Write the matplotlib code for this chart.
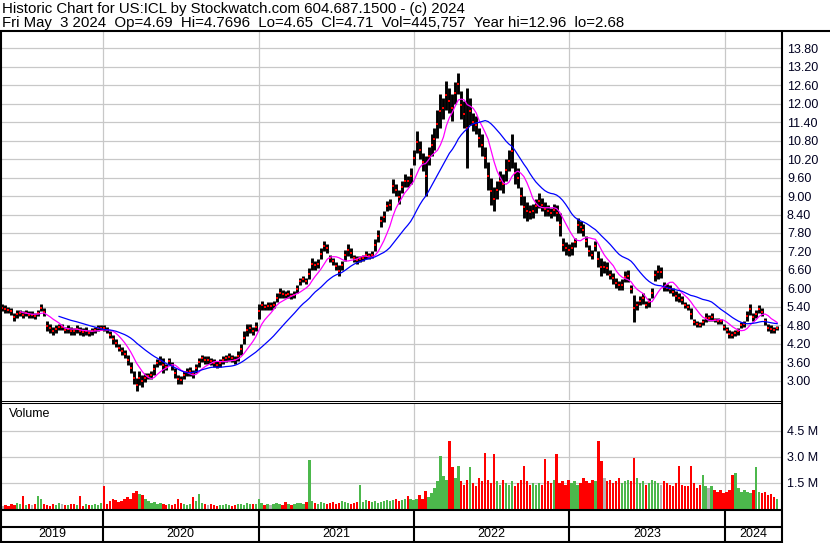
import numpy as np
import pandas as pd
import matplotlib
matplotlib.use("Agg")
import matplotlib.pyplot as plt

plt.rcParams['font.family'] = ['Liberation Sans', 'DejaVu Sans']

# weekly bars (May 2019 - May 2024)
week_high = [
    5.50, 5.45, 5.40, 5.35, 5.20, 5.30, 5.30, 5.25, 5.30, 5.25,
    5.25, 5.20, 5.30, 5.50, 5.35, 4.95, 4.85, 4.75, 4.80, 4.85,
    4.85, 4.75, 4.80, 4.75, 4.70, 4.80, 4.75, 4.70, 4.75, 4.65,
    4.70, 4.75, 4.80, 4.80, 4.80, 4.75, 4.60, 4.50, 4.35, 4.20,
    4.10, 4.00, 3.85, 3.60, 3.30, 3.10, 3.30, 3.20, 3.25, 3.25,
    3.30, 3.55, 3.70, 3.80, 3.75, 3.55, 3.75, 3.60, 3.40, 3.20,
    3.15, 3.30, 3.40, 3.45, 3.35, 3.55, 3.75, 3.85, 3.80, 3.80,
    3.75, 3.70, 3.65, 3.70, 3.80, 3.85, 3.90, 3.85, 3.80, 3.95,
    4.20, 4.60, 4.85, 4.85, 4.75, 4.90, 5.50, 5.60, 5.50, 5.55,
    5.55, 5.60, 5.85, 6.00, 5.95, 5.90, 5.95, 5.85, 5.90, 6.10,
    6.35, 6.40, 6.35, 6.65, 7.00, 6.90, 6.95, 7.30, 7.55, 7.45,
    7.10, 7.00, 6.85, 6.75, 6.90, 7.25, 7.45, 7.30, 7.10, 7.05,
    7.05, 7.10, 7.20, 7.15, 7.20, 7.60, 7.90, 8.35, 8.50, 8.85,
    8.90, 9.55, 9.40, 9.20, 9.50, 9.70, 9.65, 9.90, 10.50, 11.10,
    10.80, 10.40, 10.30, 10.60, 11.00, 11.20, 11.80, 12.30, 12.20, 12.75,
    12.50, 12.30, 12.70, 13.00, 12.40, 12.10, 12.50, 12.20, 11.70, 11.60,
    11.20, 11.00, 10.60, 10.10, 9.60, 9.30, 9.50, 9.80, 9.70, 10.20,
    10.50, 11.00, 10.10, 9.90, 9.30, 9.00, 8.80, 8.70, 8.75, 8.90,
    9.10, 8.95, 8.80, 8.70, 8.60, 8.75, 8.70, 8.45, 7.65, 7.50,
    7.45, 7.50, 7.65, 8.30, 8.20, 8.10, 7.70, 7.40, 7.25, 7.55,
    7.20, 7.00, 6.90, 6.85, 6.60, 6.50, 6.35, 6.25, 6.30, 6.55,
    6.60, 6.10, 5.80, 5.60, 5.75, 5.85, 5.60, 5.70, 6.00, 6.60,
    6.75, 6.70, 6.20, 6.15, 6.10, 6.00, 5.90, 5.85, 5.75, 5.55,
    5.50, 5.35, 5.00, 4.95, 4.90, 5.00, 5.20, 5.15, 5.20, 5.05,
    5.05, 5.00, 4.85, 4.75, 4.65, 4.60, 4.65, 4.70, 4.90, 4.95,
    5.25, 5.50, 5.20, 5.30, 5.45, 5.35, 5.05, 4.85, 4.80, 4.75, 4.77,
]
week_low = [
    5.25, 5.20, 5.20, 5.15, 4.95, 5.05, 5.10, 5.05, 5.10, 5.05,
    5.05, 5.00, 5.10, 5.25, 5.10, 4.60, 4.55, 4.50, 4.55, 4.65,
    4.65, 4.55, 4.55, 4.50, 4.50, 4.55, 4.50, 4.45, 4.50, 4.45,
    4.50, 4.55, 4.60, 4.65, 4.60, 4.55, 4.40, 4.20, 4.10, 3.95,
    3.85, 3.75, 3.50, 3.25, 2.90, 2.65, 2.85, 2.80, 2.95, 3.05,
    3.05, 3.20, 3.45, 3.50, 3.25, 3.35, 3.50, 3.35, 3.10, 2.90,
    2.90, 3.05, 3.15, 3.15, 3.10, 3.25, 3.45, 3.60, 3.55, 3.55,
    3.50, 3.45, 3.40, 3.45, 3.55, 3.60, 3.65, 3.60, 3.55, 3.65,
    3.85, 4.20, 4.45, 4.55, 4.50, 4.60, 5.00, 5.30, 5.30, 5.30,
    5.30, 5.35, 5.55, 5.70, 5.70, 5.70, 5.70, 5.65, 5.70, 5.85,
    6.10, 6.20, 6.15, 6.30, 6.60, 6.60, 6.65, 6.95, 7.20, 7.15,
    6.85, 6.75, 6.60, 6.40, 6.60, 6.90, 7.05, 7.00, 6.85, 6.80,
    6.85, 6.90, 6.95, 6.95, 7.00, 7.20, 7.50, 8.00, 8.15, 8.50,
    8.55, 9.10, 9.00, 8.75, 9.10, 9.30, 9.30, 9.40, 10.00, 10.40,
    10.20, 9.80, 9.00, 10.00, 10.30, 10.50, 10.90, 11.20, 11.50, 11.80,
    11.70, 11.45, 12.00, 12.30, 11.50, 11.20, 9.90, 11.30, 11.10, 11.00,
    10.60, 10.30, 9.90, 9.20, 8.70, 8.50, 8.90, 9.20, 9.10, 9.50,
    9.80, 9.90, 9.40, 9.25, 8.70, 8.30, 8.20, 8.25, 8.30, 8.45,
    8.60, 8.50, 8.35, 8.35, 8.30, 8.35, 8.20, 7.70, 7.20, 7.10,
    7.05, 7.10, 7.35, 7.80, 7.80, 7.70, 7.35, 7.05, 6.95, 7.20,
    6.70, 6.40, 6.50, 6.45, 6.30, 6.15, 6.00, 5.95, 5.95, 6.20,
    6.20, 5.85, 4.90, 5.30, 5.45, 5.50, 5.35, 5.40, 5.70, 6.25,
    6.30, 6.35, 5.90, 5.90, 5.85, 5.75, 5.60, 5.55, 5.50, 5.35,
    5.30, 5.00, 4.80, 4.75, 4.75, 4.80, 4.90, 4.95, 4.95, 4.90,
    4.85, 4.85, 4.65, 4.55, 4.40, 4.40, 4.45, 4.50, 4.70, 4.75,
    4.95, 5.15, 4.95, 5.05, 5.20, 5.10, 4.80, 4.60, 4.55, 4.55, 4.65,
]
# volume in millions
week_volume = [
    0.20, 0.25, 0.15, 0.30, 0.22, 0.35, 0.28, 0.75, 0.25, 0.30,
    0.25, 0.30, 0.75, 0.55, 0.30, 0.25, 0.20, 0.30, 0.25, 0.35,
    0.30, 0.25, 0.22, 0.30, 0.28, 0.25, 0.75, 0.20, 0.30, 0.25,
    0.25, 0.30, 0.22, 0.35, 1.35, 0.30, 0.45, 0.60, 0.50, 0.40,
    0.45, 0.55, 0.70, 0.60, 0.90, 1.05, 0.85, 0.80, 0.60, 0.45,
    0.35, 0.40, 0.30, 0.35, 0.30, 0.25, 0.30, 0.25, 0.30, 0.60,
    0.35, 0.30, 0.25, 0.30, 0.70, 0.45, 0.87, 0.35, 0.30, 0.25,
    0.30, 0.25, 0.20, 0.25, 0.22, 0.30, 0.25, 0.20, 0.25, 0.30,
    0.30, 0.25, 0.35, 0.30, 0.28, 0.30, 0.55, 0.35, 0.25, 0.30,
    0.25, 0.30, 0.35, 0.30, 0.25, 0.40, 0.30, 0.25, 0.30, 0.35,
    0.35, 0.30, 0.40, 2.83, 0.45, 0.35, 0.30, 0.40, 0.35, 0.30,
    0.35, 0.40, 0.30, 0.35, 0.45, 0.40, 0.35, 0.30, 0.35, 0.40,
    1.38, 0.40, 0.50, 0.45, 0.40, 0.45, 0.35, 0.40, 0.45, 0.50,
    0.45, 0.50, 0.55, 0.45, 0.50, 0.60, 0.77, 0.55, 0.50, 0.60,
    0.80, 0.55, 1.04, 0.70, 0.90, 1.20, 1.60, 3.06, 1.90, 1.70,
    3.94, 2.40, 1.80, 2.50, 1.60, 1.40, 1.70, 2.45, 1.50, 1.30,
    1.80, 1.60, 3.25, 1.70, 1.50, 3.15, 1.60, 1.40, 1.70, 1.50,
    1.40, 1.60, 1.30, 1.50, 1.70, 2.50, 1.60, 1.40, 1.50, 1.40,
    1.50, 1.40, 2.88, 1.60, 1.50, 1.70, 3.20, 1.50, 1.60, 1.40,
    1.70, 1.50, 1.60, 1.40, 1.50, 1.80, 1.60, 1.50, 1.70, 1.60,
    3.94, 2.77, 1.80, 1.60, 1.70, 1.50, 1.60, 1.80, 1.50, 1.60,
    1.70, 1.60, 2.96, 1.80, 1.50, 1.60, 1.40, 1.50, 1.70, 1.60,
    1.50, 1.40, 1.60, 1.50, 1.40, 1.30, 1.50, 2.50, 1.40, 1.30,
    1.30, 2.48, 1.50, 1.20, 1.40, 1.96, 1.30, 1.20, 1.30, 1.10,
    1.00, 1.10, 0.90, 1.00, 1.10, 1.96, 2.10, 1.20, 1.00, 1.10,
    1.00, 0.90, 1.10, 2.44, 1.00, 0.90, 1.00, 0.80, 0.85, 0.70, 0.60,
]
price_ticks = [3.00, 3.60, 4.20, 4.80, 5.40, 6.00, 6.60, 7.20, 7.80, 8.40,
               9.00, 9.60, 10.20, 10.80, 11.40, 12.00, 12.60, 13.20, 13.80]
volume_ticks = [1.5, 3.0, 4.5]
years = [2019, 2020, 2021, 2022, 2023, 2024]

title_line = "Historic Chart for US:ICL by Stockwatch.com 604.687.1500 - (c) 2024"
quote_line = ("Fri May  3 2024  Op=4.69  Hi=4.7696  Lo=4.65  Cl=4.71  "
              "Vol=445,757  Year hi=12.96  lo=2.68")

dates = pd.date_range("2019-05-10", periods=len(week_high), freq="7D")
high = np.array(week_high)
low = np.array(week_low)
mid = (high + low) / 2
ma_short = pd.Series(mid).rolling(7).mean()
ma_long = pd.Series(mid).rolling(20).mean()

change = np.diff(mid, prepend=mid[0])
vol_colors = np.where(change > 0, "#4cb84c", np.where(change < 0, "#ff0000", "#b4b4b4"))

W, H = 830, 543
fig = plt.figure(figsize=(W / 100, H / 100), dpi=100)


def rect(x0, y0, x1, y1):
    return [x0 / W, 1 - y1 / H, (x1 - x0) / W, (y1 - y0) / H]


x_left = pd.Timestamp("2019-05-09")
x_right = pd.Timestamp("2024-05-12")
year_starts = [pd.Timestamp(f"{y}-01-01") for y in years[1:]]
grid_color = "#c8c8c8"

# price panel
ax = fig.add_axes(rect(2, 32, 781, 400))
ax.set_xlim(x_left, x_right)
ax.set_ylim(2.373, 14.33)
ax.vlines(dates, low, high, color="black", lw=2.1, zorder=3)
ax.scatter(dates, mid, marker="s", s=2.2, color="red", lw=0, zorder=4)
ax.plot(dates, ma_short, color="#ff00ff", lw=0.9, zorder=5)
ax.plot(dates, ma_long, color="#0000ff", lw=0.9, zorder=5)
ax.set_yticks(price_ticks)
ax.set_yticklabels([f"{t:.2f}" for t in price_ticks])
ax.yaxis.tick_right()
ax.tick_params(axis="y", length=0, pad=4.3, labelsize=9, labelcolor="#000020")
ax.set_xticks(year_starts)
ax.tick_params(axis="x", length=0, labelbottom=False)
ax.grid(True, color=grid_color, lw=0.9)
ax.set_axisbelow(True)
for s in ax.spines.values():
    s.set_visible(False)
ax.text(9, 45, "US:ICL", transform=None, fontsize=9, va="baseline")

# volume panel
ax2 = fig.add_axes(rect(2, 403, 781, 509), sharex=ax)
ax2.bar(dates, week_volume, width=5.5, color=vol_colors, lw=0, zorder=3)
ax2.set_ylim(0, 6.115)
ax2.set_yticks(volume_ticks)
ax2.set_yticklabels([f"{t:.1f} M" for t in volume_ticks])
ax2.yaxis.tick_right()
ax2.tick_params(axis="y", length=0, pad=4.3, labelsize=9, labelcolor="#000020")
ax2.tick_params(axis="x", length=0, labelbottom=False)
ax2.grid(True, color=grid_color, lw=0.9)
ax2.set_axisbelow(True)
for s in ax2.spines.values():
    s.set_visible(False)
ax2.text(9, H - 417, "Volume", transform=None, fontsize=9, va="baseline")

# date rows
ax3 = fig.add_axes(rect(2, 510, 781, 541), sharex=ax)
ax3.set_ylim(0, 1)
ax3.axis("off")
for d in year_starts:
    ax3.axvline(d, color="black", lw=1.5)
for y in years:
    a = max(pd.Timestamp(f"{y}-01-01"), x_left)
    b = min(pd.Timestamp(f"{y + 1}-01-01"), x_right)
    ax3.text(a + (b - a) / 2, 0.21, str(y), ha="center", va="center", fontsize=9)

# frame and header
bg = fig.add_axes([0, 0, 1, 1], zorder=10)
bg.set_xlim(0, W)
bg.set_ylim(H, 0)
bg.patch.set_alpha(0)
bg.axis("off")
bg.text(2, 13, title_line, fontsize=10.8, va="baseline")
bg.text(2, 27, quote_line, fontsize=10.8, va="baseline")
bg.hlines(31, 0, W, color="black", lw=1.5)
bg.hlines([400.8, 402.8], 0, 782, color="black", lw=0.75)
bg.hlines([509.5, 527.0, 541.5], 0, 782, color="black", lw=1.5)
bg.vlines([1, 782], 31, H, color="black", lw=1.5)

fig.savefig("out.png", dpi=100)
